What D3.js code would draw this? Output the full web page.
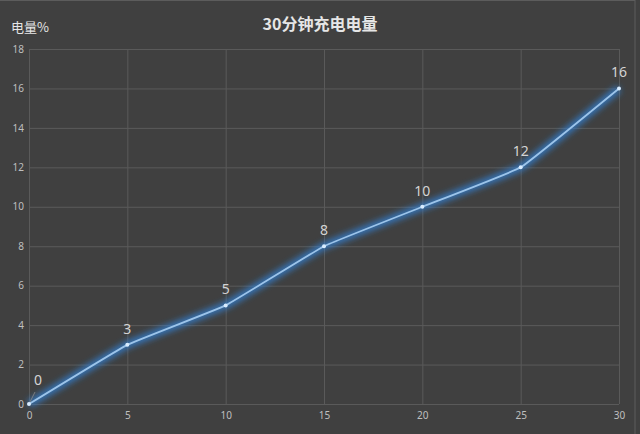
<!DOCTYPE html>
<html>
<head>
<meta charset="utf-8">
<script src="https://cdn.jsdelivr.net/npm/d3@7"></script>
<style>
  body { margin: 0; background: #404040; }
  svg { display: block; }
</style>
</head>
<body>
<div id="chart"></div>
<script>
// Data
var minutes = [0, 5, 10, 15, 20, 25, 30];
var charge = [0, 3, 5, 8, 10, 12, 16];
var xTicks = [0, 5, 10, 15, 20, 25, 30];
var yTicks = [0, 2, 4, 6, 8, 10, 12, 14, 16, 18];

var title = '30分钟充电电量';
var yTitle = '电量%';

const width = 640;
const height = 434;
const margin = { left: 29, right: 21, top: 49, bottom: 30 };
const chartWidth = width - margin.left - margin.right;
const chartHeight = height - margin.top - margin.bottom;

var points = minutes.map(function (m, i) { return { x: m, y: charge[i] }; });

// Scales
var scaleX = d3.scaleLinear().domain([0, 30]).range([0, chartWidth]);
var scaleY = d3.scaleLinear().domain([0, 18]).range([chartHeight, 0]);

var svg = d3.select('#chart')
  .append('svg')
  .attr('width', width)
  .attr('height', height)
  .style('font-family', '"Noto Sans CJK SC", "Noto Sans", sans-serif');

svg.append('rect')
  .attr('width', width)
  .attr('height', height)
  .attr('fill', '#404040');

// outer frame (only top & right visible in the picture)
svg.append('rect')
  .attr('x', -2).attr('y', 0.5)
  .attr('width', 637).attr('height', height + 2)
  .attr('fill', 'none')
  .attr('stroke', '#5c5c5c');

var defs = svg.append('defs');
var glow = defs.append('filter')
  .attr('id', 'glow')
  .attr('x', '-20%').attr('y', '-20%')
  .attr('width', '140%').attr('height', '140%');
glow.append('feGaussianBlur').attr('stdDeviation', 3.2);

// Titles
svg.append('text')
  .attr('x', width / 2)
  .attr('y', 30)
  .attr('text-anchor', 'middle')
  .attr('font-size', '16px')
  .attr('font-weight', 'bold')
  .attr('fill', '#e6e6e6')
  .text(title);

svg.append('text')
  .attr('x', 11)
  .attr('y', 32)
  .attr('font-size', '13px')
  .attr('fill', '#e6e6e6')
  .text(yTitle);

var group = svg.append('g')
  .attr('transform', 'translate(' + margin.left + ',' + margin.top + ')');

// Axes with gridlines
var axisX = d3.axisBottom(scaleX)
  .tickValues(xTicks)
  .tickSize(-chartHeight)
  .tickPadding(8);

var axisY = d3.axisLeft(scaleY)
  .tickValues(yTicks)
  .tickSize(-chartWidth)
  .tickPadding(8);

var gx = group.append('g')
  .attr('transform', 'translate(0,' + chartHeight + ')')
  .call(axisX);

var gy = group.append('g')
  .call(axisY);

[gx, gy].forEach(function (g) {
  g.select('.domain').remove();
  g.selectAll('line').attr('stroke', '#5a5a5a');
  g.selectAll('text')
    .attr('fill', '#bfbfbf')
    .attr('font-size', '10px')
    .style('font-family', '"Noto Sans", "DejaVu Sans", sans-serif');
});
gy.selectAll('text').attr('dx', 3);

// Line with glow (lightly smoothed, like the spreadsheet's smooth line)
var lineFunc = d3.line()
  .x(function (d) { return scaleX(d.x); })
  .y(function (d) { return scaleY(d.y); })
  .curve(d3.curveCardinal.tension(0.75));

group.append('path')
  .attr('d', lineFunc(points))
  .attr('stroke', '#2f86e0')
  .attr('stroke-width', 7)
  .attr('stroke-opacity', 0.8)
  .attr('fill', 'none')
  .attr('filter', 'url(#glow)');

group.append('path')
  .attr('d', lineFunc(points))
  .attr('stroke', '#9cc4ea')
  .attr('stroke-width', 1.8)
  .attr('fill', 'none');

group.selectAll('circle')
  .data(points)
  .enter()
  .append('circle')
  .attr('cx', function (d) { return scaleX(d.x); })
  .attr('cy', function (d) { return scaleY(d.y); })
  .attr('r', 2)
  .attr('fill', '#d8ecff');

// leader line for the first label
group.append('line')
  .attr('x1', scaleX(points[0].x) + 1)
  .attr('y1', scaleY(points[0].y) - 2)
  .attr('x2', scaleX(points[0].x) + 6)
  .attr('y2', scaleY(points[0].y) - 12)
  .attr('stroke', '#8a8a8a')
  .attr('stroke-width', 0.8);

// Data labels
group.selectAll('.label')
  .data(points)
  .enter()
  .append('text')
  .attr('class', 'label')
  .attr('x', function (d, i) { return scaleX(d.x) + (i === 0 ? 9 : 0); })
  .attr('y', function (d, i) { return scaleY(d.y) - (i === 0 ? 19 : 11); })
  .attr('text-anchor', 'middle')
  .attr('font-size', '14px')
  .attr('fill', '#d4d4d4')
  .style('font-family', '"Noto Sans", "DejaVu Sans", sans-serif')
  .text(function (d) { return d.y; });
</script>
</body>
</html>
